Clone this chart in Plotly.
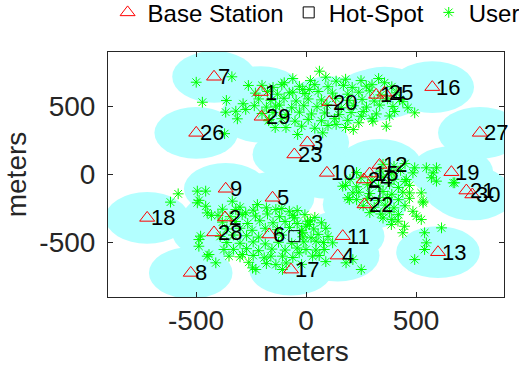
import plotly.graph_objects as go

# ---------------- data ----------------
bs_id = list(range(1, 31))
bs_x = [-205, -368, 6, 144, -152, -167, -418, -524, -365, 95,
        167, 334, 600, 319, 289, 574, -68, -722, 661, 106,
        729, 266, -53, 263, 357, -499, 790, -418, -202, 756]
bs_y = [606, -316, 235, -596, -171, -441, 718, -723, -105, 12,
        -453, 70, -571, 585, 7, 642, -699, -319, 17, 532,
        -118, -220, 147, -37, 601, 306, 306, -426, 424, -147]

hs_x = [121, -53, 311]
hs_y = [468, -453, -135]

cover_radius = 190  # metres

# users around the northern hot-spot
users_top_x = [-499, -471, -362, -337, -365, -319, -312, -286, -262, -274, -99, -38, -91, 61, 137, 15,
               274, 357, 494, 463, 365, 304, 251, 137, 76, 425, 403, -167, -138, -76, -15, -370,
               -60, 20, 90, 180, 250, 330,
               -200, -150, -110, -30, 40, 100, 170, 210, 300, 390,
               -230, -175, -130, -60, -5, 55, 120, 190, 240, 290, 340, 410,
               -215, -160, -100, -45, 10, 70, 135, 195, 255, 310, 370, 440,
               -235, -180, -120, -65, -10, 50, 95, 160, 215, 275, 335, 395,
               -200, -150, -90, -30, 25, 85, 150, 205, 260, 320, 380,
               -170, -110, -50, 10, 70, 130, 190, 240, 300,
               -140, -20, 40, 100, 180, 215]
users_top_y = [678, 531, 544, 718, 458, 465, 409, 520, 654, 478, 674, 294, 345, 759, 686, 625,
               649, 674, 453, 490, 355, 392, 428, 368, 306, 551, 463, 404, 502, 600, 625, 300,
               705, 690, 715, 700, 690, 705,
               655, 640, 660, 648, 660, 645, 655, 640, 660, 645,
               598, 610, 590, 605, 595, 610, 598, 590, 605, 615, 585, 600,
               555, 545, 560, 540, 555, 548, 560, 545, 552, 540, 555, 535,
               505, 495, 510, 490, 505, 498, 512, 490, 505, 495, 510, 500,
               448, 455, 440, 458, 445, 452, 440, 455, 462, 445, 430,
               395, 410, 392, 405, 395, 410, 398, 380, 410,
               345, 355, 340, 360, 345, 330]

# users around the south-western hot-spot
users_sw_x = [-581, -616, -494, -456, -494, -456, -449, -487, -487, -449, -410, -373, -335, -319, -243, -228,
              -221, -274, -76, -137, -53, 7, -479, -441, -350, -289, -190, -107, 0, 23, -31, -137,
              15, -15, 46, 83, 121, 182, 251, 213, 0, 30, -107, -486, -430,
              -380, -300, -240, -180, -110, -40,
              -400, -345, -290, -230, -175, -120, -60, -5, 40,
              -380, -320, -265, -210, -150, -95, -40, 20, 70,
              -360, -300, -245, -185, -130, -75, -20, 35, 90,
              -390, -330, -270, -215, -110, -15, 55, 100,
              -360, -300, -240, -185, -125, -65, -10, 80,
              -330, -270, -215, -155, -95, -40, 45,
              -300, -240, -160, -60, 60,
              -260, -180, -90, -20, 90]
users_sw_y = [-142, -203, -122, -122, -208, -233, -282, -478, -527, -600, -649, -551, -196, -257, -686, -698,
              -221, -282, -270, -257, -318, -343, -453, -588, -600, -588, -612, -600, -380, -465, -575, -662,
              -368, -428, -490, -551, -502, -649, -698, -625, -551, -600, -698, -190, -300,
              -255, -240, -262, -245, -250, -265,
              -300, -310, -295, -305, -290, -310, -300, -295, -315,
              -350, -345, -360, -340, -355, -345, -360, -340, -355,
              -400, -395, -410, -395, -405, -390, -410, -400, -395,
              -455, -445, -450, -460, -445, -458, -440, -455,
              -500, -505, -495, -510, -498, -505, -495, -500,
              -550, -545, -560, -548, -555, -540, -555,
              -605, -595, -600, -610, -595,
              -645, -655, -650, -660, -640]

# users around the eastern hot-spot
users_e_x = [167, 190, 524, 532, 524, 502, 539, 547, 539, 494, 616, 547, 593, 578, 593, 570,
             676, 486, 494, 456, 471, 486, 440, 448, 418, 388, 213, 197, 669, 532,
             350, 400, 450,
             230, 340, 390, 430,
             200, 250, 300, 350, 400, 450,
             180, 230, 280, 330, 380, 420, 470,
             240, 290, 350, 390, 440,
             230, 280, 330, 370, 420, 470,
             260, 310, 360, 400, 450,
             290, 340, 380, 420,
             350, 390]
users_e_y = [-86, -171, -135, -208, -331, -306, -428, -502, -551, -625, -392, 49, 49, 12, -49, -24,
             -61, 12, 49, -37, -135, -270, -428, -380, -343, -368, -135, -184, -61, -196,
             75, 60, 80,
             15, 25, 10, 30,
             -35, -25, -40, -20, -35, -50,
             -80, -90, -75, -85, -70, -95, -80,
             -130, -140, -125, -145, -130,
             -185, -175, -190, -170, -185, -175,
             -230, -240, -225, -245, -230,
             -280, -290, -275, -295,
             -320, -330]

users_x = users_top_x + users_sw_x + users_e_x
users_y = users_top_y + users_sw_y + users_e_y

x_ticks = [-500, 0, 500]
x_ticktext = ["-500", "0", "500"]
y_ticks = [-500, 0, 500]
y_ticktext = ["-500", "0", "500"]

FONT = "Liberation Sans, Arial, Helvetica, sans-serif"
AXIS_COLOR = "#262626"

# ---------------- figure ----------------
fig = go.Figure()

shapes = []
for cx, cy in zip(bs_x, bs_y):
    shapes.append(dict(type="circle", xref="x", yref="y",
                       x0=cx - cover_radius, x1=cx + cover_radius,
                       y0=cy - cover_radius, y1=cy + cover_radius,
                       fillcolor="#b3ffff", line=dict(width=0), layer="below"))

fig.add_trace(go.Scatter(
    x=users_x, y=users_y, mode="markers", name="User", legendrank=3,
    marker=dict(symbol="asterisk-open", size=9, color="#00ff00",
                line=dict(color="#00ff00", width=1))))

fig.add_trace(go.Scatter(
    x=bs_x, y=bs_y, mode="markers", name="Base Station", legendrank=1,
    marker=dict(symbol="triangle-up-open", size=13, color="#ff0000",
                line=dict(color="#ff0000", width=1))))

fig.add_trace(go.Scatter(
    x=hs_x, y=hs_y, mode="markers", name="Hot-Spot", legendrank=2,
    marker=dict(symbol="square-open", size=11, color="#000000",
                line=dict(color="#000000", width=1))))

annotations = []
for i, cx, cy in zip(bs_id, bs_x, bs_y):
    annotations.append(dict(x=cx, y=cy, xref="x", yref="y", text=str(i),
                            showarrow=False, xanchor="left", yanchor="middle",
                            xshift=2, font=dict(family=FONT, size=22, color="#000000")))

axis_common = dict(
    range=[-900, 900], showgrid=False, zeroline=False, showline=True,
    linecolor=AXIS_COLOR, linewidth=1, mirror="ticks", ticks="inside",
    ticklen=5, tickcolor=AXIS_COLOR, tickwidth=1,
    tickfont=dict(family=FONT, size=28, color=AXIS_COLOR),
)

fig.update_layout(
    width=519, height=371,
    margin=dict(l=108, r=15, t=52, b=74, autoexpand=False),
    paper_bgcolor="white", plot_bgcolor="white",
    font=dict(family=FONT, color=AXIS_COLOR),
    shapes=shapes, annotations=annotations,
    xaxis=dict(**axis_common, tickvals=x_ticks, ticktext=x_ticktext,
               ticklabelstandoff=-2, automargin=False,
               title=dict(text="meters", font=dict(family=FONT, size=28, color=AXIS_COLOR), standoff=4)),
    yaxis=dict(**axis_common, tickvals=y_ticks, ticktext=y_ticktext,
               ticklabelstandoff=6, automargin=False,
               title=dict(text="meters", font=dict(family=FONT, size=28, color=AXIS_COLOR), standoff=4)),
    showlegend=True,
    legend=dict(orientation="h", x=-0.001, xanchor="left", y=1.16, yanchor="middle",
                font=dict(family=FONT, size=24, color="#000000"),
                bgcolor="rgba(0,0,0,0)", traceorder="normal"),
)

fig.write_html("out.html")
